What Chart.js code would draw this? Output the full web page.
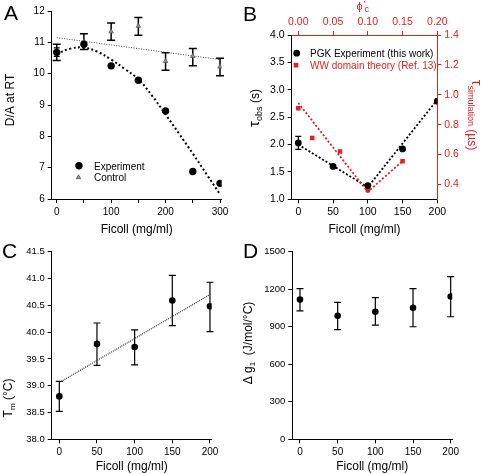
<!DOCTYPE html>
<html>
<head>
<meta charset="utf-8">
<script src="https://cdn.jsdelivr.net/npm/chart.js@4.4.1/dist/chart.umd.min.js"></script>
<style>
  html, body { margin: 0; padding: 0; background: #fff; }
  #figure { position: relative; width: 482px; height: 474px; }
  .panel { position: absolute; }
</style>
</head>
<body>
<div id="figure">
  <div class="panel" style="left:0;top:0"><canvas id="chartA" width="241" height="240"></canvas></div>
  <div class="panel" style="left:241px;top:0"><canvas id="chartB" width="241" height="240"></canvas></div>
  <div class="panel" style="left:0;top:240px"><canvas id="chartC" width="241" height="234"></canvas></div>
  <div class="panel" style="left:241px;top:240px"><canvas id="chartD" width="241" height="234"></canvas></div>
</div>
<script>
// ---- Panel A: D/A ratio vs Ficoll ----
const ficollA = [0, 50, 100, 150, 200, 250, 300];
const experimentA = [10.68, 10.94, 10.25, 9.79, 8.81, 6.88, 6.50];
const experimentLoA = [10.55, null, null, null, null, null, null];
const experimentHiA = [10.82, null, null, null, null, null, null];
const controlA = [10.68, 11.02, 11.34, 11.52, 10.40, 10.56, 10.22];
const controlLoA = [10.42, 10.77, 11.07, 11.23, 10.11, 10.25, 9.93];
const controlHiA = [10.94, 11.27, 11.62, 11.79, 10.67, 10.80, 10.49];
const expFitXA = [0, 25, 50, 75, 100, 125, 150, 175, 200, 225, 250, 275, 300];
const expFitYA = [10.63, 10.80, 10.83, 10.70, 10.45, 10.15, 9.82, 9.30, 8.70, 8.08, 7.45, 6.80, 6.15];
const ctrlFitXA = [0, 300];
const ctrlFitYA = [11.15, 10.45];
const ticksAx = [0, 50, 100, 150, 200, 250, 300];
const labelsAx = ['0', '', '100', '', '200', '', '300'];
const ticksAy = [6, 7, 8, 9, 10, 11, 12];
const labelsAy = ['6', '7', '8', '9', '10', '11', '12'];

// ---- Panel B: folding relaxation time ----
const ficollB = [0, 50, 100, 150, 200];
const tauObsB = [2.03, 1.60, 1.25, 1.92, 2.79];
const tauObsLoB = [1.91, null, null, null, null];
const tauObsHiB = [2.15, null, null, null, null];
const obsFitXB = [0, 100, 200];
const obsFitYB = [2.00, 1.22, 2.82];
const phiB = [0.00, 0.02, 0.06, 0.10, 0.15];
const tauSimB = [0.91, 0.71, 0.62, 0.36, 0.555];
const simFitPhiB = [0.00, 0.10, 0.15];
const simFitB = [0.945, 0.35, 0.556];
const ticksBx = [0, 50, 100, 150, 200];
const labelsBx = ['0', '50', '100', '150', '200'];
const ticksBx2 = [0, 0.05, 0.10, 0.15, 0.20];
const labelsBx2 = ['0.00', '0.05', '0.10', '0.15', '0.20'];
const ticksBy = [1.0, 1.5, 2.0, 2.5, 3.0, 3.5, 4.0];
const labelsBy = ['1.0', '1.5', '2.0', '2.5', '3.0', '3.5', '4.0'];
const ticksBy2 = [0.4, 0.6, 0.8, 1.0, 1.2, 1.4];
const labelsBy2 = ['0.4', '0.6', '0.8', '1.0', '1.2', '1.4'];

// ---- Panel C: melting temperature ----
const ficollC = [0, 50, 100, 150, 200];
const tmC = [38.80, 39.78, 39.72, 40.59, 40.48];
const tmLoC = [38.52, 39.38, 39.39, 40.12, 40.01];
const tmHiC = [39.08, 40.17, 40.04, 41.06, 40.93];
const tmFitXC = [0, 200];
const tmFitYC = [39.06, 40.70];
const ticksCx = [0, 50, 100, 150, 200];
const labelsCx = ['0', '50', '100', '150', '200'];
const ticksCy = [38.0, 38.5, 39.0, 39.5, 40.0, 40.5, 41.0, 41.5];
const labelsCy = ['38.0', '38.5', '39.0', '39.5', '40.0', '40.5', '41.0', '41.5'];

// ---- Panel D: delta g1 ----
const ficollD = [0, 50, 100, 150, 200];
const dgD = [1117, 988, 1020, 1052, 1142];
const dgLoD = [1027, 877, 913, 900, 980];
const dgHiD = [1205, 1095, 1132, 1205, 1300];
const ticksDx = [0, 50, 100, 150, 200];
const labelsDx = ['0', '50', '100', '150', '200'];
const ticksDy = [0, 300, 600, 900, 1200, 1500];
const labelsDy = ['0', '300', '600', '900', '1200', '1500'];

const FONT = "'Liberation Sans', Arial, Helvetica, sans-serif";
const RED = '#e3211c';
Chart.defaults.font.family = FONT;
Chart.defaults.color = '#000';

const pts = (xs, ys) => xs.map((x, i) => ({ x: x, y: ys[i] }));

// vertical error bars from errLo / errHi arrays on a dataset
const errorBars = {
    id: 'errorBars',
    beforeDatasetsDraw(chart) {
        const ctx = chart.ctx;
        chart.data.datasets.forEach(ds => {
            if (!ds.errLo) return;
            const xs = chart.scales[ds.xAxisID || 'x'];
            const ys = chart.scales[ds.yAxisID || 'y'];
            const cap = ds.errCap || 3;
            ctx.save();
            ctx.strokeStyle = ds.errColor || '#000';
            ctx.lineWidth = ds.errWidth || 1.2;
            ds.data.forEach((p, j) => {
                if (ds.errLo[j] == null) return;
                const x = xs.getPixelForValue(p.x);
                const y1 = ys.getPixelForValue(ds.errLo[j]);
                const y2 = ys.getPixelForValue(ds.errHi[j]);
                ctx.beginPath();
                ctx.moveTo(x, y1); ctx.lineTo(x, y2);
                ctx.moveTo(x - cap, y1); ctx.lineTo(x + cap, y1);
                ctx.moveTo(x - cap, y2); ctx.lineTo(x + cap, y2);
                ctx.stroke();
            });
            ctx.restore();
        });
    }
};

// panel letters, rich axis titles (sub/superscripts) and in-plot legends
const panelText = {
    id: 'panelText',
    afterDraw(chart, args, opts) {
        const ctx = chart.ctx;
        (opts.items || []).forEach(it => {
            ctx.save();
            ctx.translate(it.x, it.y);
            ctx.rotate(it.rot || 0);
            ctx.textBaseline = 'alphabetic';
            if (it.marker) {
                const m = it.marker;
                ctx.fillStyle = m.color;
                ctx.strokeStyle = m.stroke || m.color;
                ctx.lineWidth = m.lineWidth || 0;
                ctx.beginPath();
                if (m.style === 'circle') ctx.arc(m.dx, m.dy, m.r, 0, Math.PI * 2);
                else if (m.style === 'rect') ctx.rect(m.dx - m.r, m.dy - m.r, m.r * 2, m.r * 2);
                else {
                    ctx.moveTo(m.dx, m.dy - m.r);
                    ctx.lineTo(m.dx + m.r * 0.87, m.dy + m.r * 0.5);
                    ctx.lineTo(m.dx - m.r * 0.87, m.dy + m.r * 0.5);
                    ctx.closePath();
                }
                ctx.fill();
                if (m.lineWidth) ctx.stroke();
            }
            let w = 0;
            it.parts.forEach(p => { ctx.font = p.size + 'px ' + FONT; w += ctx.measureText(p.t).width; });
            let x = it.align === 'left' ? 0 : -w / 2;
            it.parts.forEach(p => {
                ctx.font = p.size + 'px ' + FONT;
                ctx.fillStyle = p.color || it.color || '#000';
                ctx.fillText(p.t, x, p.dy || 0);
                x += ctx.measureText(p.t).width;
            });
            ctx.restore();
        });
    }
};

function axis(o) {
    const vertical = o.position === 'left' || o.position === 'right';
    const color = o.color || '#000';
    return {
        type: 'linear',
        position: o.position,
        bounds: 'data',
        min: o.min,
        max: o.max,
        afterBuildTicks: s => { s.ticks = o.ticks.map(v => ({ value: v })); },
        afterFit: s => { if (vertical) s.width = o.size; else s.height = o.size; },
        grid: { drawOnChartArea: false, drawTicks: true, tickLength: 4, tickWidth: 1, tickColor: color, color: color },
        border: { display: true, color: color, width: 1 },
        ticks: {
            color: color, padding: 3, autoSkip: false, maxRotation: 0,
            font: { size: o.fontSize || 10 },
            callback: (v, i) => o.labels[i]
        },
        title: o.title ? {
            display: true, text: o.title, color: '#000',
            font: { size: 12, weight: 'normal' }, padding: { top: 0, bottom: o.titlePad || 0 }
        } : { display: false }
    };
}

function baseOptions(padding, scales, items) {
    return {
        responsive: false,
        animation: false,
        devicePixelRatio: 1,
        layout: { padding: padding },
        plugins: { legend: { display: false }, tooltip: { enabled: false }, panelText: { items: items } },
        scales: scales
    };
}

// Panel A
new Chart(document.getElementById('chartA'), {
    type: 'scatter',
    data: {
        datasets: [
            { data: pts(ctrlFitXA, ctrlFitYA), showLine: true, borderColor: '#444', borderWidth: 1, borderDash: [1, 1.5], pointRadius: 0, order: 4 },
            { data: pts(expFitXA, expFitYA), showLine: true, tension: 0.4, borderColor: '#000', borderWidth: 2, borderDash: [2, 2.5], pointRadius: 0, order: 3 },
            { data: pts(ficollA, controlA), pointStyle: 'triangle', pointRadius: 2.6, backgroundColor: '#999', borderColor: '#555', borderWidth: 0.8,
              errLo: controlLoA, errHi: controlHiA, errWidth: 1.5, errCap: 4, order: 1 },
            { data: pts(ficollA, experimentA), pointStyle: 'circle', pointRadius: 3.7, backgroundColor: '#000', borderColor: '#000', borderWidth: 0,
              errLo: experimentLoA, errHi: experimentHiA, errWidth: 1.2, errCap: 3, order: 0 }
        ]
    },
    options: baseOptions({ left: 0, top: 11, right: 19.3, bottom: 0 }, {
        x: axis({ position: 'bottom', min: -9.2, max: 303.1, ticks: ticksAx, labels: labelsAx, size: 41, title: 'Ficoll (mg/ml)', titlePad: 3 }),
        y: axis({ position: 'left', min: 6, max: 12, ticks: ticksAy, labels: labelsAy, size: 51.7 })
    }, [
        { x: 4, y: 20, align: 'left', parts: [{ t: 'A', size: 21 }] },
        { x: 14, y: 100, rot: -Math.PI / 2, parts: [{ t: 'D/A at RT', size: 12 }] },
        { x: 94, y: 169.6, align: 'left', marker: { style: 'circle', r: 3.7, color: '#000', dx: -15, dy: -3.8 }, parts: [{ t: 'Experiment', size: 10 }] },
        { x: 94, y: 181, align: 'left', marker: { style: 'triangle', r: 2.6, color: '#999', stroke: '#555', lineWidth: 0.8, dx: -15.5, dy: -3.6 }, parts: [{ t: 'Control', size: 10 }] }
    ]),
    plugins: [errorBars, panelText]
});

// Panel B
new Chart(document.getElementById('chartB'), {
    type: 'scatter',
    data: {
        datasets: [
            { data: pts(obsFitXB, obsFitYB), showLine: true, borderColor: '#000', borderWidth: 1.8, borderDash: [2, 2], pointRadius: 0, order: 4 },
            { data: pts(simFitPhiB, simFitB), xAxisID: 'x2', yAxisID: 'y2', showLine: true, borderColor: RED, borderWidth: 1.8, borderDash: [2, 2], pointRadius: 0, order: 3 },
            { data: pts(phiB, tauSimB), xAxisID: 'x2', yAxisID: 'y2', pointStyle: 'rect', pointRadius: 3.2, backgroundColor: RED, borderColor: RED, borderWidth: 0, order: 1 },
            { data: pts(ficollB, tauObsB), pointStyle: 'circle', pointRadius: 3.4, backgroundColor: '#000', borderColor: '#000', borderWidth: 0,
              errLo: tauObsLoB, errHi: tauObsHiB, errWidth: 1.2, errCap: 3, order: 0 }
        ]
    },
    options: baseOptions({ left: 0, top: 0, right: 0, bottom: 0 }, {
        x: axis({ position: 'bottom', min: -9.5, max: 200, ticks: ticksBx, labels: labelsBx, size: 40.7, fontSize: 10.5, title: 'Ficoll (mg/ml)', titlePad: 3 }),
        x2: axis({ position: 'top', min: -0.0095, max: 0.2, ticks: ticksBx2, labels: labelsBx2, size: 35, fontSize: 10.5, color: RED }),
        y: axis({ position: 'left', min: 1, max: 4, ticks: ticksBy, labels: labelsBy, size: 50.7, fontSize: 10.5 }),
        y2: axis({ position: 'right', min: 0.3, max: 1.4, ticks: ticksBy2, labels: labelsBy2, size: 44.7, fontSize: 10.5, color: RED })
    }, [
        { x: 2, y: 21, align: 'left', parts: [{ t: 'B', size: 21 }] },
        { x: 18.3, y: 108, rot: -Math.PI / 2, parts: [{ t: 'τ', size: 15 }, { t: 'obs', size: 9, dy: 3 }, { t: ' (s)', size: 12 }] },
        { x: 226.5, y: 115, rot: Math.PI / 2, color: RED, parts: [{ t: 'τ', size: 14, dy: -4 }, { t: 'simulation', size: 9 }, { t: ' (µs)', size: 12 }] },
        { x: 115.5, y: 10, align: 'left', color: RED, parts: [{ t: 'ϕ', size: 11 }] },
        { x: 122.5, y: 7, align: 'left', color: RED, parts: [{ t: '′', size: 9 }] },
        { x: 123.5, y: 12, align: 'left', color: RED, parts: [{ t: 'c', size: 9 }] },
        { x: 69, y: 57, align: 'left', marker: { style: 'circle', r: 3.4, color: '#000', dx: -13.3, dy: -3.8 }, parts: [{ t: 'PGK Experiment (this work)', size: 10 }] },
        { x: 69, y: 69, align: 'left', color: RED, marker: { style: 'rect', r: 2.3, color: RED, dx: -14, dy: -3.8 }, parts: [{ t: 'WW domain theory (Ref. 13)', size: 10 }] }
    ]),
    plugins: [errorBars, panelText]
});

// Panel C
new Chart(document.getElementById('chartC'), {
    type: 'scatter',
    data: {
        datasets: [
            { data: pts(tmFitXC, tmFitYC), showLine: true, borderColor: '#333', borderWidth: 1.2, borderDash: [1, 1], pointRadius: 0, order: 3 },
            { data: pts(ficollC, tmC), pointStyle: 'circle', pointRadius: 3.3, backgroundColor: '#000', borderColor: '#000', borderWidth: 0,
              errLo: tmLoC, errHi: tmHiC, errWidth: 1.2, errCap: 3.5, order: 0 }
        ]
    },
    options: baseOptions({ left: 0, top: 11.7, right: 29.3, bottom: 0 }, {
        x: axis({ position: 'bottom', min: -10.1, max: 202.3, ticks: ticksCx, labels: labelsCx, size: 34.7, title: 'Ficoll (mg/ml)', titlePad: 0 }),
        y: axis({ position: 'left', min: 38, max: 41.5, ticks: ticksCy, labels: labelsCy, size: 51.7, fontSize: 9.5 })
    }, [
        { x: 2, y: 18, align: 'left', parts: [{ t: 'C', size: 21 }] },
        { x: 12, y: 158, rot: -Math.PI / 2, parts: [{ t: 'T', size: 12 }, { t: 'm', size: 8, dy: 3 }, { t: ' (°C)', size: 12 }] }
    ]),
    plugins: [errorBars, panelText]
});

// Panel D
new Chart(document.getElementById('chartD'), {
    type: 'scatter',
    data: {
        datasets: [
            { data: pts(ficollD, dgD), pointStyle: 'circle', pointRadius: 3.3, backgroundColor: '#000', borderColor: '#000', borderWidth: 0,
              errLo: dgLoD, errHi: dgHiD, errWidth: 1.2, errCap: 3.5, order: 0 }
        ]
    },
    options: baseOptions({ left: 0, top: 11.7, right: 29.8, bottom: 0 }, {
        x: axis({ position: 'bottom', min: -10.2, max: 202, ticks: ticksDx, labels: labelsDx, size: 34.7, title: 'Ficoll (mg/ml)', titlePad: 0 }),
        y: axis({ position: 'left', min: 0, max: 1500, ticks: ticksDy, labels: labelsDy, size: 51.3, fontSize: 9.5 })
    }, [
        { x: 2, y: 18, align: 'left', parts: [{ t: 'D', size: 21 }] },
        { x: 11, y: 103, rot: -Math.PI / 2, parts: [{ t: 'Δ g', size: 12 }, { t: '1', size: 8, dy: 3 }, { t: '  (J/mol/°C)', size: 12 }] }
    ]),
    plugins: [errorBars, panelText]
});
</script>
</body>
</html>
